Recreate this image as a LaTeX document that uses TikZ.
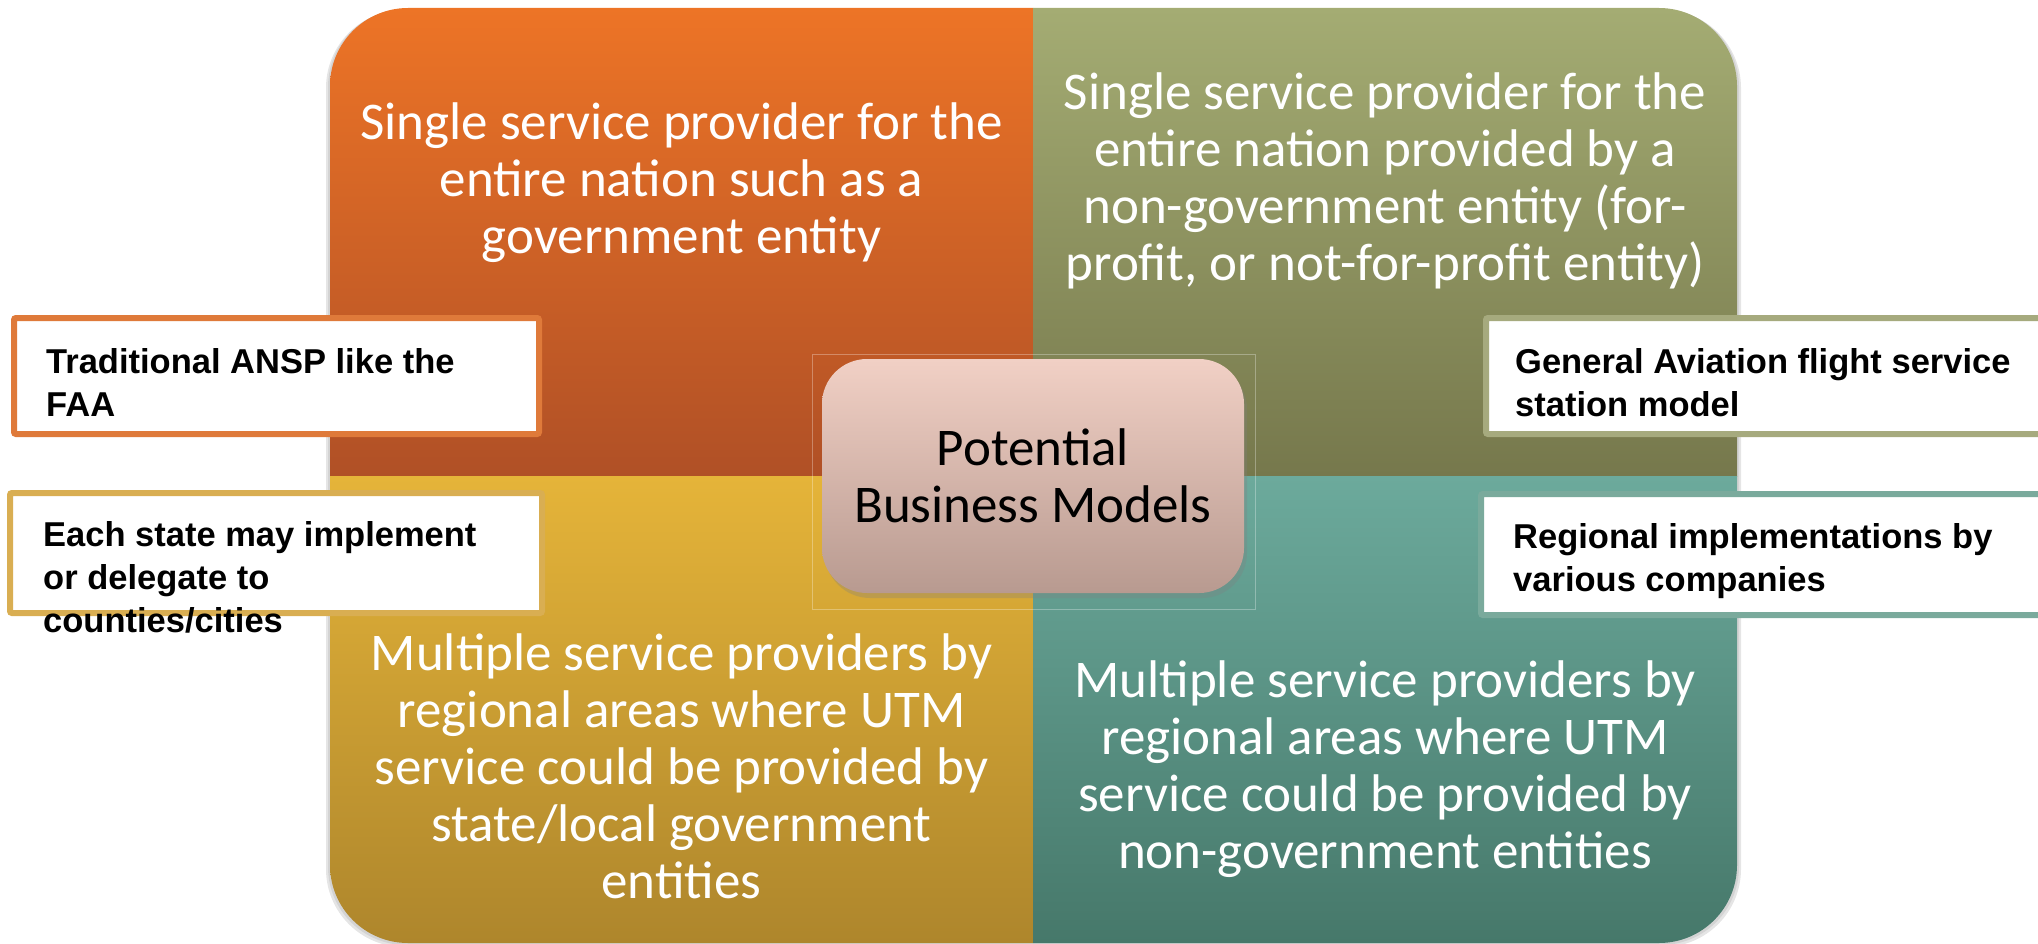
\documentclass[tikz,border=0pt]{standalone}
\usepackage{fontspec}
\setmainfont{Carlito}
\newfontfamily\boxfont{Liberation Sans}
\usetikzlibrary{shadows}
\definecolor{tlTop}{RGB}{237,116,38}
\definecolor{tlBot}{RGB}{176,80,38}
\definecolor{trTop}{RGB}{164,172,115}
\definecolor{trBot}{RGB}{118,120,76}
\definecolor{blTop}{RGB}{229,180,57}
\definecolor{blBot}{RGB}{174,134,44}
\definecolor{brTop}{RGB}{108,170,156}
\definecolor{brBot}{RGB}{70,120,106}
\definecolor{cTop}{RGB}{241,208,197}
\definecolor{cBot}{RGB}{184,154,144}
\definecolor{bOrange}{RGB}{223,122,58}
\definecolor{bGold}{RGB}{217,174,82}
\definecolor{bOlive}{RGB}{166,170,126}
\definecolor{bTeal}{RGB}{122,170,156}
\newcommand{\qlines}[1]{\parbox[t]{690pt}{\centering #1}}
\newcommand{\blines}[1]{\parbox[t]{560pt}{\raggedright #1}}
\begin{document}
\begin{tikzpicture}[x=1pt,y=-1pt,
  qtext/.style={text=white, inner sep=0pt, anchor=base, font=\fontsize{53pt}{57pt}\selectfont},
  lbl/.style={text=black, inner sep=0pt, anchor=base west, font=\boxfont\bfseries\fontsize{34.5pt}{43pt}\selectfont},
  callout/.style={draw=#1, fill=white, line width=6pt, rounded corners=2pt},
  cbox/.style={rounded corners=45pt, top color=cTop, bottom color=cBot, draw=none,
    minimum width=422pt, minimum height=234pt, inner sep=0pt, align=center,
    font=\fontsize{53pt}{57pt}\selectfont, text=black,
    drop shadow={opacity=.3, shadow xshift=3pt, shadow yshift=-5pt}}
]
\useasboundingbox (0,0) rectangle (2038,944);
% outer soft shadow of the quadrant block
\fill[black, opacity=.10, rounded corners=78pt] (326,10) rectangle (1741,947);
\fill[black, opacity=.08, rounded corners=78pt] (328,9) rectangle (1739,945);
\begin{scope}
  \clip[rounded corners=78pt] (330,8) rectangle (1737,943);
  \shade[top color=tlTop, bottom color=tlBot] (330,8) rectangle (1033,476);
  \shade[top color=trTop, bottom color=trBot] (1033,8) rectangle (1737,476);
  \shade[top color=blTop, bottom color=blBot] (330,476) rectangle (1033,943);
  \shade[top color=brTop, bottom color=brBot] (1033,476) rectangle (1737,943);
\end{scope}
% faint frame around the centre
\draw[white, opacity=.3, line width=1pt] (812,354) rectangle (1255,609);
% quadrant texts
\node[qtext] (tl) at (681.5,140) {\qlines{Single service provider for the\\ entire nation such as a\\ government entity}};
\node[qtext] (tr) at (1385,110) {\qlines{Single service provider for the\\ entire nation provided by a\\ non-government entity (for-\\ profit, or not-for-profit entity)}};
\node[qtext] (bl) at (681.5,670) {\qlines{Multiple service providers by\\ regional areas where UTM\\ service could be provided by\\ state/local government\\ entities}};
\node[qtext] (br) at (1385,697) {\qlines{Multiple service providers by\\ regional areas where UTM\\ service could be provided by\\ non-government entities}};
% centre box
\node[cbox] (center) at (1033,476) {Potential\\ Business Models};
% callout boxes
\draw[callout=bOrange] (14,318) rectangle (539,434);
\draw[callout=bGold] (10,493) rectangle (542,613);
\draw[callout=bOlive] (1486,318) rectangle (2070,434);
\draw[callout=bTeal] (1481,494) rectangle (2070,615);
\node[lbl] (ansp) at (46,373) {\blines{Traditional ANSP like the\\ FAA}};
\node[lbl] (state) at (43,546) {\blines{Each state may implement\\ or delegate to\\ counties/cities}};
\node[lbl] (ga) at (1515,373) {\blines{General Aviation flight service\\ station model}};
\node[lbl] (reg) at (1513,548) {\blines{Regional implementations by\\ various companies}};
\end{tikzpicture}
\end{document}
